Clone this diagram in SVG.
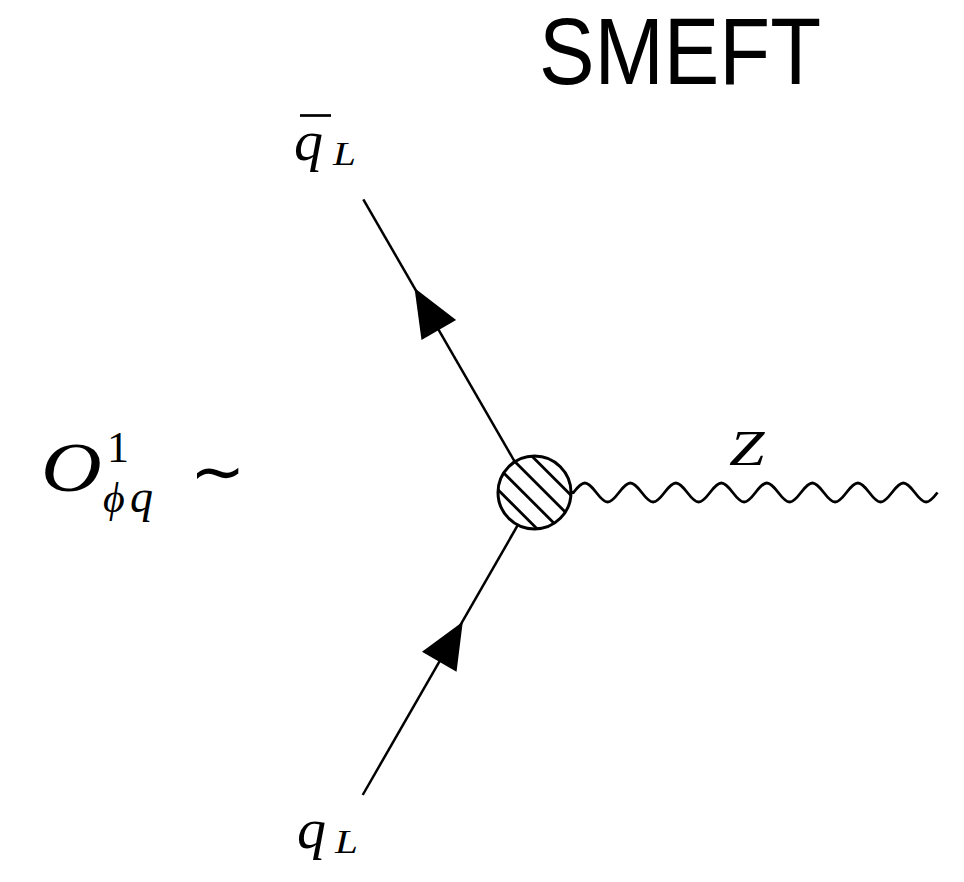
<svg xmlns="http://www.w3.org/2000/svg" width="964" height="882" viewBox="0 0 964 882">
<style>
.fermion{stroke:#000;stroke-width:2.5;fill:none}
.arrow{fill:#000;stroke:none}
.math{font-family:"Liberation Serif","DejaVu Serif",serif;font-style:italic;fill:#000}
.rm{font-family:"Liberation Serif","DejaVu Serif",serif;fill:#000}
.hatch{stroke:#000;stroke-width:2.8}
</style>
<defs>
<clipPath id="blobclip"><circle cx="534.5" cy="492.5" r="36"/></clipPath>
</defs>
<rect width="964" height="882" fill="#fff"/>
<text x="539" y="84" font-family="'Liberation Sans',Arial,sans-serif" font-size="94" textLength="282" lengthAdjust="spacingAndGlyphs" fill="#000">SMEFT</text>
<g id="connectors">
<g id="edge-qbar">
<line class="fermion" x1="363.3" y1="199.3" x2="534.5" y2="496"/>
<polygon class="arrow" points="414.5,288 456.1,320 421.5,340"/>
</g>
<g id="edge-q">
<line class="fermion" x1="362.7" y1="795" x2="534.5" y2="496"/>
<polygon class="arrow" points="462.8,621.7 456.5,671.7 422,651.7"/>
</g>
<g id="edge-Z">
<path fill="none" stroke="#000" stroke-width="2.8" d="M 571 492.5 L 573.5 492.5 c 9.65 -12.67 13.1 -12.67 22.75 0 s 13.1 12.67 22.75 0 s 13.1 -12.67 22.75 0 s 13.1 12.67 22.75 0 s 13.1 -12.67 22.75 0 s 13.1 12.67 22.75 0 s 13.1 -12.67 22.75 0 s 13.1 12.67 22.75 0 s 13.1 -12.67 22.75 0 s 13.1 12.67 22.75 0 s 13.1 -12.67 22.75 0 s 13.1 12.67 22.75 0 s 13.1 -12.67 22.75 0 s 13.1 12.67 22.75 0 s 13.1 -12.67 22.75 0 s 13.1 12.67 22.75 0"/>
</g>
</g>
<g id="vertex">
<circle cx="534.5" cy="492.5" r="37" fill="#fff" stroke="none"/>
<g clip-path="url(#blobclip)">
<line class="hatch" x1="511.35" y1="435.65" x2="591.35" y2="515.65"/>
<line class="hatch" x1="500.1" y1="446.9" x2="580.1" y2="526.9"/>
<line class="hatch" x1="488.9" y1="458.1" x2="568.9" y2="538.1"/>
<line class="hatch" x1="477.65" y1="469.35" x2="557.65" y2="549.35"/>
</g>
<circle cx="534.5" cy="492.5" r="36.5" fill="none" stroke="#000" stroke-width="3"/>
</g>
<g id="label-qbar">
<text class="math" x="294" y="160" font-size="58">q</text>
<line x1="300" y1="115.5" x2="331" y2="115.5" stroke="#000" stroke-width="2.7"/>
<text class="math" transform="translate(333,165) scale(1.25,1)" font-size="33">L</text>
</g>
<g id="label-q">
<text class="math" x="297" y="848" font-size="58">q</text>
<text class="math" transform="translate(335,853) scale(1.25,1)" font-size="33">L</text>
</g>
<g id="label-Z">
<text class="math" transform="translate(729,465) scale(1.25,1)" font-size="51">Z</text>
</g>
<g id="label-operator">
<text class="math" transform="translate(41,491) scale(1.2,1)" font-size="70">O</text>
<text class="rm" x="107" y="462" font-size="44">1</text>
<text class="math" x="103" y="512" font-size="42">ϕ</text>
<text class="math" x="130" y="512" font-size="46">q</text>
<text x="190" y="494" font-family="'DejaVu Sans',sans-serif" font-size="66" fill="#000">∼</text>
</g>
</svg>
